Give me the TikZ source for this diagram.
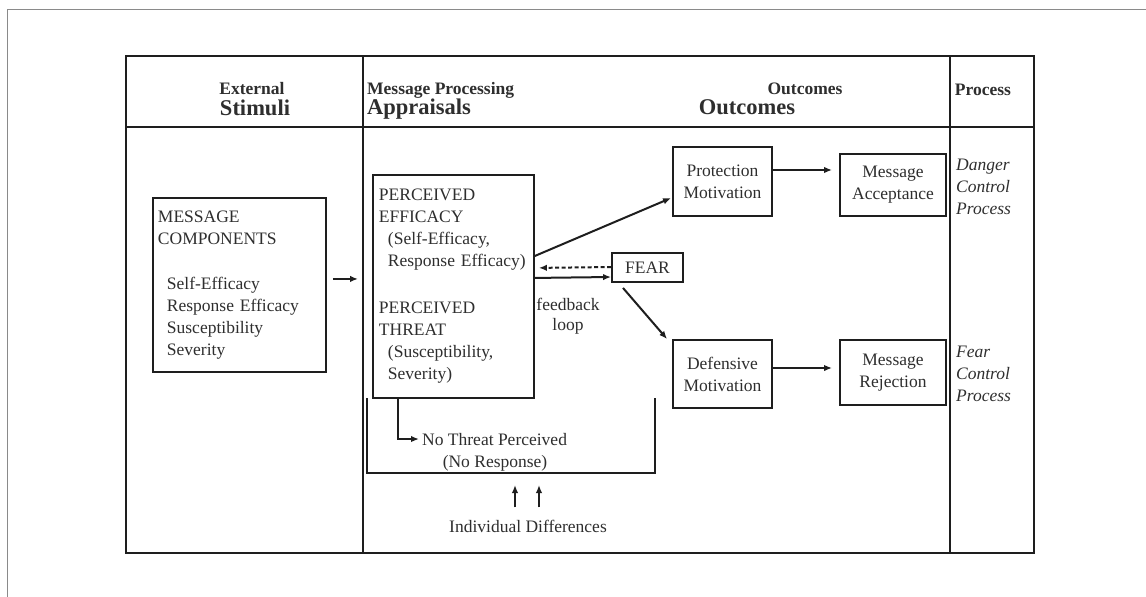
\documentclass[tikz,border=0pt]{standalone}
\usepackage{fontspec}
\setmainfont{Liberation Serif}
\usetikzlibrary{arrows.meta,calc}
\definecolor{linec}{HTML}{1E1E1E}
\definecolor{txt}{HTML}{2E2E2E}
\definecolor{framec}{HTML}{8A8A8A}
\newcommand\bodyfs{\fontsize{17.5}{22}\selectfont}
\newcommand\hsmfs{\fontsize{17.5}{21}\selectfont\bfseries}
\newcommand\hlgfs{\fontsize{22.5}{26}\selectfont\bfseries}
\begin{document}
\begin{tikzpicture}[x=1pt,y=-1pt,
  box/.style={draw=linec, line width=1.9pt, inner sep=0pt, align=center, text=txt, font=\bodyfs},
  lbl/.style={inner sep=0pt, text=txt, font=\bodyfs},
  hsm/.style={inner sep=0pt, text=txt, font=\hsmfs},
  hlg/.style={inner sep=0pt, text=txt, font=\hlgfs},
  arr/.style={draw=linec, line width=2pt, -{Latex[length=8pt,width=6.5pt]}},
  rule/.style={draw=linec, line width=2.2pt},
  thin/.style={draw=linec, line width=1.7pt}
]
\useasboundingbox (0,0) rectangle (1146,597);
% page frame
\draw[framec, line width=1.4pt] (7.5,597) -- (7.5,9.5) -- (1146,9.5);
% table
\draw[rule] (126,56) rectangle (1034,553);
\draw[rule] (126,127) -- (1034,127);
\draw[rule] (363,56) -- (363,553);
\draw[rule] (950,56) -- (950,553);
% headers
\node[hsm, anchor=base] (h1) at (252,94.5) {External};
\node[hlg, anchor=base] (h2) at (255,115) {Stimuli};
\node[hsm, anchor=base west] (h3) at (367,94) {Message Processing};
\node[hlg, anchor=base west] (h4) at (367,114.5) {Appraisals};
\node[hsm, anchor=base] (h5) at (805,94.5) {Outcomes};
\node[hlg, anchor=base] (h6) at (747,114.5) {Outcomes};
\node[hsm, anchor=base] (h7) at (983,95) {Process};
% boxes
\node[box, anchor=north west, minimum height=174pt, text width=163pt, inner xsep=5pt, align=left] (mc) at (152,197)
  {MESSAGE\\COMPONENTS\\[23pt]\hspace*{9pt}Self-Efficacy\\\hspace*{9pt}Response Efficacy\\\hspace*{9pt}Susceptibility\\\hspace*{9pt}Severity};
\node[box, anchor=north west, minimum height=223pt, text width=149pt, inner xsep=6pt, align=left] (pe) at (372,174)
  {PERCEIVED\\EFFICACY\\\hspace*{9pt}(Self-Efficacy,\\\hspace*{9pt}Response Efficacy)\\[25pt]PERCEIVED\\THREAT\\\hspace*{9pt}(Susceptibility,\\\hspace*{9pt}Severity)};
\node[box, minimum width=99pt, minimum height=69pt] (pm) at (722.5,181.5) {Protection\\Motivation};
\node[box, minimum width=106pt, minimum height=62pt] (ma) at (893,185) {Message\\Acceptance};
\node[box, minimum width=99pt, minimum height=68pt] (dm) at (722.5,374) {Defensive\\Motivation};
\node[box, minimum width=106pt, minimum height=65pt] (mr) at (893,372.5) {Message\\Rejection};
\node[box, minimum width=71pt, minimum height=29pt] (fear) at (647.5,267.5) {FEAR};
% process labels (base = last line)
\node[lbl, anchor=base west, align=left, font=\bodyfs\itshape] (dcp) at (956,214) {Danger\\Control\\Process};
\node[lbl, anchor=base west, align=left, font=\bodyfs\itshape] (fcp) at (956,401) {Fear\\Control\\Process};
% feedback label
\node[lbl, align=center, font=\fontsize{17.5}{20}\selectfont] (fb) at (568,316) {feedback\\loop};
% arrows
\draw[arr, shorten <=6pt, shorten >=14pt] ([yshift=6pt]mc.east) -- ([yshift=7.5pt]pe.west);
\draw[arr] ([yshift=30.5pt]pe.east) -- ([xshift=-1pt,yshift=-16.5pt]pm.west);
\draw[arr, dash pattern=on 4pt off 2.5pt, shorten >=4pt] ([yshift=0.5pt]fear.west) -- ([yshift=18.5pt]pe.east);
\draw[arr] ([yshift=8.5pt]pe.east) -- ([yshift=-9.5pt]fear.west);
\draw[arr] ([xshift=-24.5pt,yshift=-5pt]fear.south) -- ([xshift=-5pt]dm.north west);
\draw[arr, shorten >=7pt] ([yshift=11.5pt]pm.east) -- ([yshift=15pt]ma.west);
\draw[arr, shorten >=7pt] ([yshift=6pt]dm.east) -- ([yshift=4.5pt]mr.west);
% no threat
\node[lbl, anchor=base west] (nt1) at (422,445) {No Threat Perceived};
\node[lbl, anchor=base] (nt2) at (495,467) {(No Response)};
\draw[arr] ([xshift=-55.5pt]pe.south) |- ([xshift=-3pt]nt1.west);
% bracket
\draw[thin] (367,398) -- (367,473) -- (655,473) -- (655,398);
\coordinate (brk) at (528,473);
% individual differences
\node[lbl, anchor=base] (id) at (528,532) {Individual Differences};
\draw[arr] ([xshift=-13pt,yshift=12pt]id.north) -- ([xshift=-13pt,yshift=-12pt]brk);
\draw[arr] ([xshift=11pt,yshift=12pt]id.north) -- ([xshift=11pt,yshift=-12pt]brk);
\end{tikzpicture}
\end{document}
